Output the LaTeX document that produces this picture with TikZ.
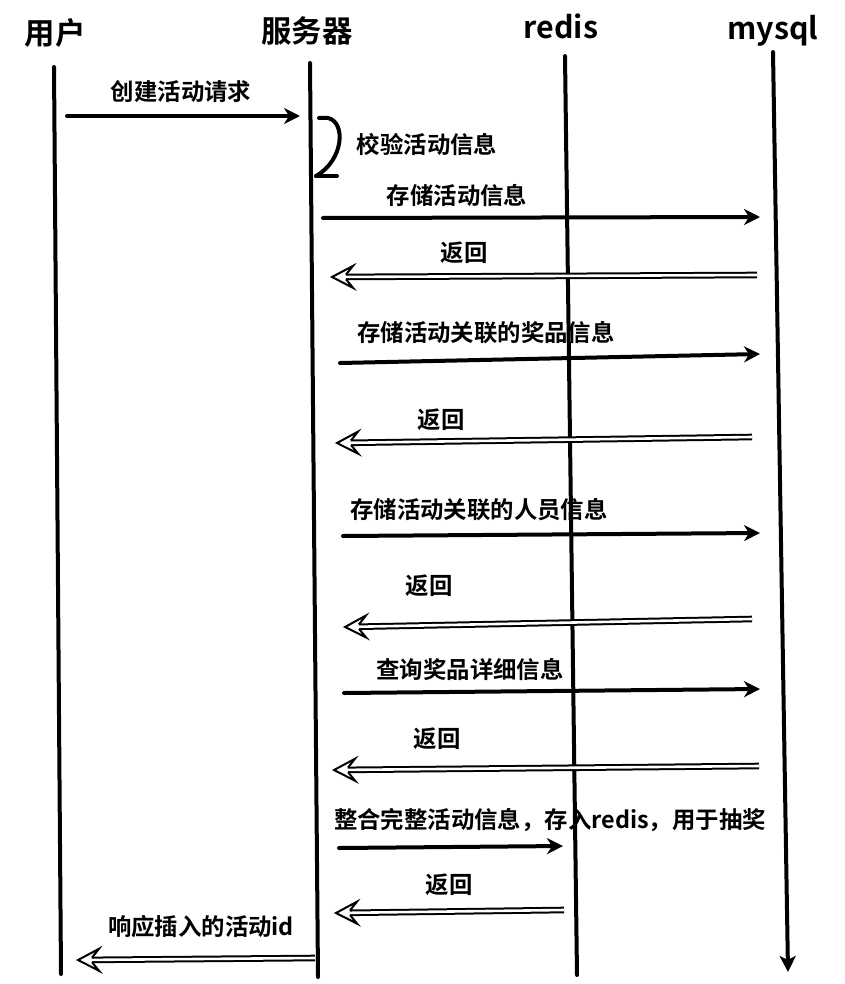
\documentclass[tikz,border=0pt]{standalone}
\usepackage{fontspec}
\setmainfont{Noto Sans CJK SC}[BoldFont={Noto Sans CJK SC Bold}]
\usetikzlibrary{arrows.meta,calc,decorations.markings}
\newcommand{\retarrow}[2]{%
  \draw[retline] (#1) -- ($(#2)!14pt!(#1)$);
  \path[rethead] (#1) -- (#2);}
\begin{document}
\begin{tikzpicture}[x=1pt,y=-1pt,
  head/.style={font=\bfseries\fontsize{30.4}{32}\selectfont, inner sep=0pt},
  lbl/.style={font=\bfseries\fontsize{23.4}{25}\selectfont, inner sep=0pt},
  life/.style={line width=4pt, line cap=round},
  call/.style={line width=4pt, line cap=round, -{Stealth[length=16pt,width=16pt,inset=5pt]}},
  retline/.style={line width=2pt, double, double distance=2.6pt},
  rethead/.style={decoration={markings, mark=at position 1 with {
     \draw[line width=2pt, line join=miter, line cap=butt]
       (-14pt,2.3pt) -- (-21pt,11pt) -- (0pt,0pt) -- (-21pt,-11pt) -- (-14pt,-2.3pt);}},
     decorate}]
\useasboundingbox (0,0) rectangle (844,984);
% headers
\node[head] (hu) at (55,33) {用户};
\node[head] (hs) at (307,31) {服务器};
\node[head] (hr) at (561,26) {redis};
\node[head] (hm) at (773,31) {mysql};
% lifelines
\coordinate (u1) at (54,67); \coordinate (u2) at (61,974);
\coordinate (s1) at (310,63); \coordinate (s2) at (318,977);
\coordinate (r1) at (565,56); \coordinate (r2) at (577,975);
\coordinate (m1) at (773,52); \coordinate (m2) at (788,972);
\draw[life] (u1) -- (u2);
\draw[life] (s1) -- (s2);
\draw[life] (r1) -- (r2);
\draw[life,-{Stealth[length=16pt,width=16pt,inset=4pt]}] (m1) -- (m2);
% 1
\node[lbl] (l1) at (181,92) {创建活动请求};
\coordinate (a1) at (67,116); \coordinate (b1) at (300,116);
\draw[call] (a1) -- (b1);
% self loop
\node[lbl] (l2) at (427,145) {校验活动信息};
\coordinate (a2) at (319,118); \coordinate (b2) at (316,176);
\draw[line width=4pt, line cap=round] (a2) -- (328,118) .. controls (346,122) and (344,160) .. (b2);
\coordinate (t2) at (337,176);
\draw[line width=4pt, line cap=round] (b2) -- (t2);
% 3
\node[lbl] (l3) at (457,196) {存储活动信息};
\coordinate (a3) at (323,218); \coordinate (b3) at (760,217);
\draw[call] (a3) -- (b3);
% 4
\node[lbl] (l4) at (464,253) {返回};
\coordinate (a4) at (757,275); \coordinate (b4) at (332,277);
\retarrow{a4}{b4}
% 5
\node[lbl] (l5) at (486,333) {存储活动关联的奖品信息};
\coordinate (a5) at (340,363); \coordinate (b5) at (760,354);
\draw[call] (a5) -- (b5);
% 6
\node[lbl] (l6) at (441,420) {返回};
\coordinate (a6) at (752,437); \coordinate (b6) at (337,443);
\retarrow{a6}{b6}
% 7
\node[lbl] (l7) at (479,510) {存储活动关联的人员信息};
\coordinate (a7) at (343,536); \coordinate (b7) at (760,533);
\draw[call] (a7) -- (b7);
% 8
\node[lbl] (l8) at (429,586) {返回};
\coordinate (a8) at (752,619); \coordinate (b8) at (345,627);
\retarrow{a8}{b8}
% 9
\node[lbl] (l9) at (470,670) {查询奖品详细信息};
\coordinate (a9) at (344,693); \coordinate (b9) at (760,689);
\draw[call] (a9) -- (b9);
% 10
\node[lbl] (l10) at (437,739) {返回};
\coordinate (a10) at (759,766); \coordinate (b10) at (334,770);
\retarrow{a10}{b10}
% 11
\node[lbl] (l11) at (550,820) {整合完整活动信息，存入redis，用于抽奖};
\coordinate (a11) at (339,848); \coordinate (b11) at (563,846);
\draw[call] (a11) -- (b11);
% 12
\node[lbl] (l12) at (449,885) {返回};
\coordinate (a12) at (564,910); \coordinate (b12) at (336,913);
\retarrow{a12}{b12}
% 13
\node[lbl] (l13) at (201,927) {响应插入的活动id};
\coordinate (a13) at (315,958); \coordinate (b13) at (78,960);
\retarrow{a13}{b13}
\end{tikzpicture}
\end{document}
